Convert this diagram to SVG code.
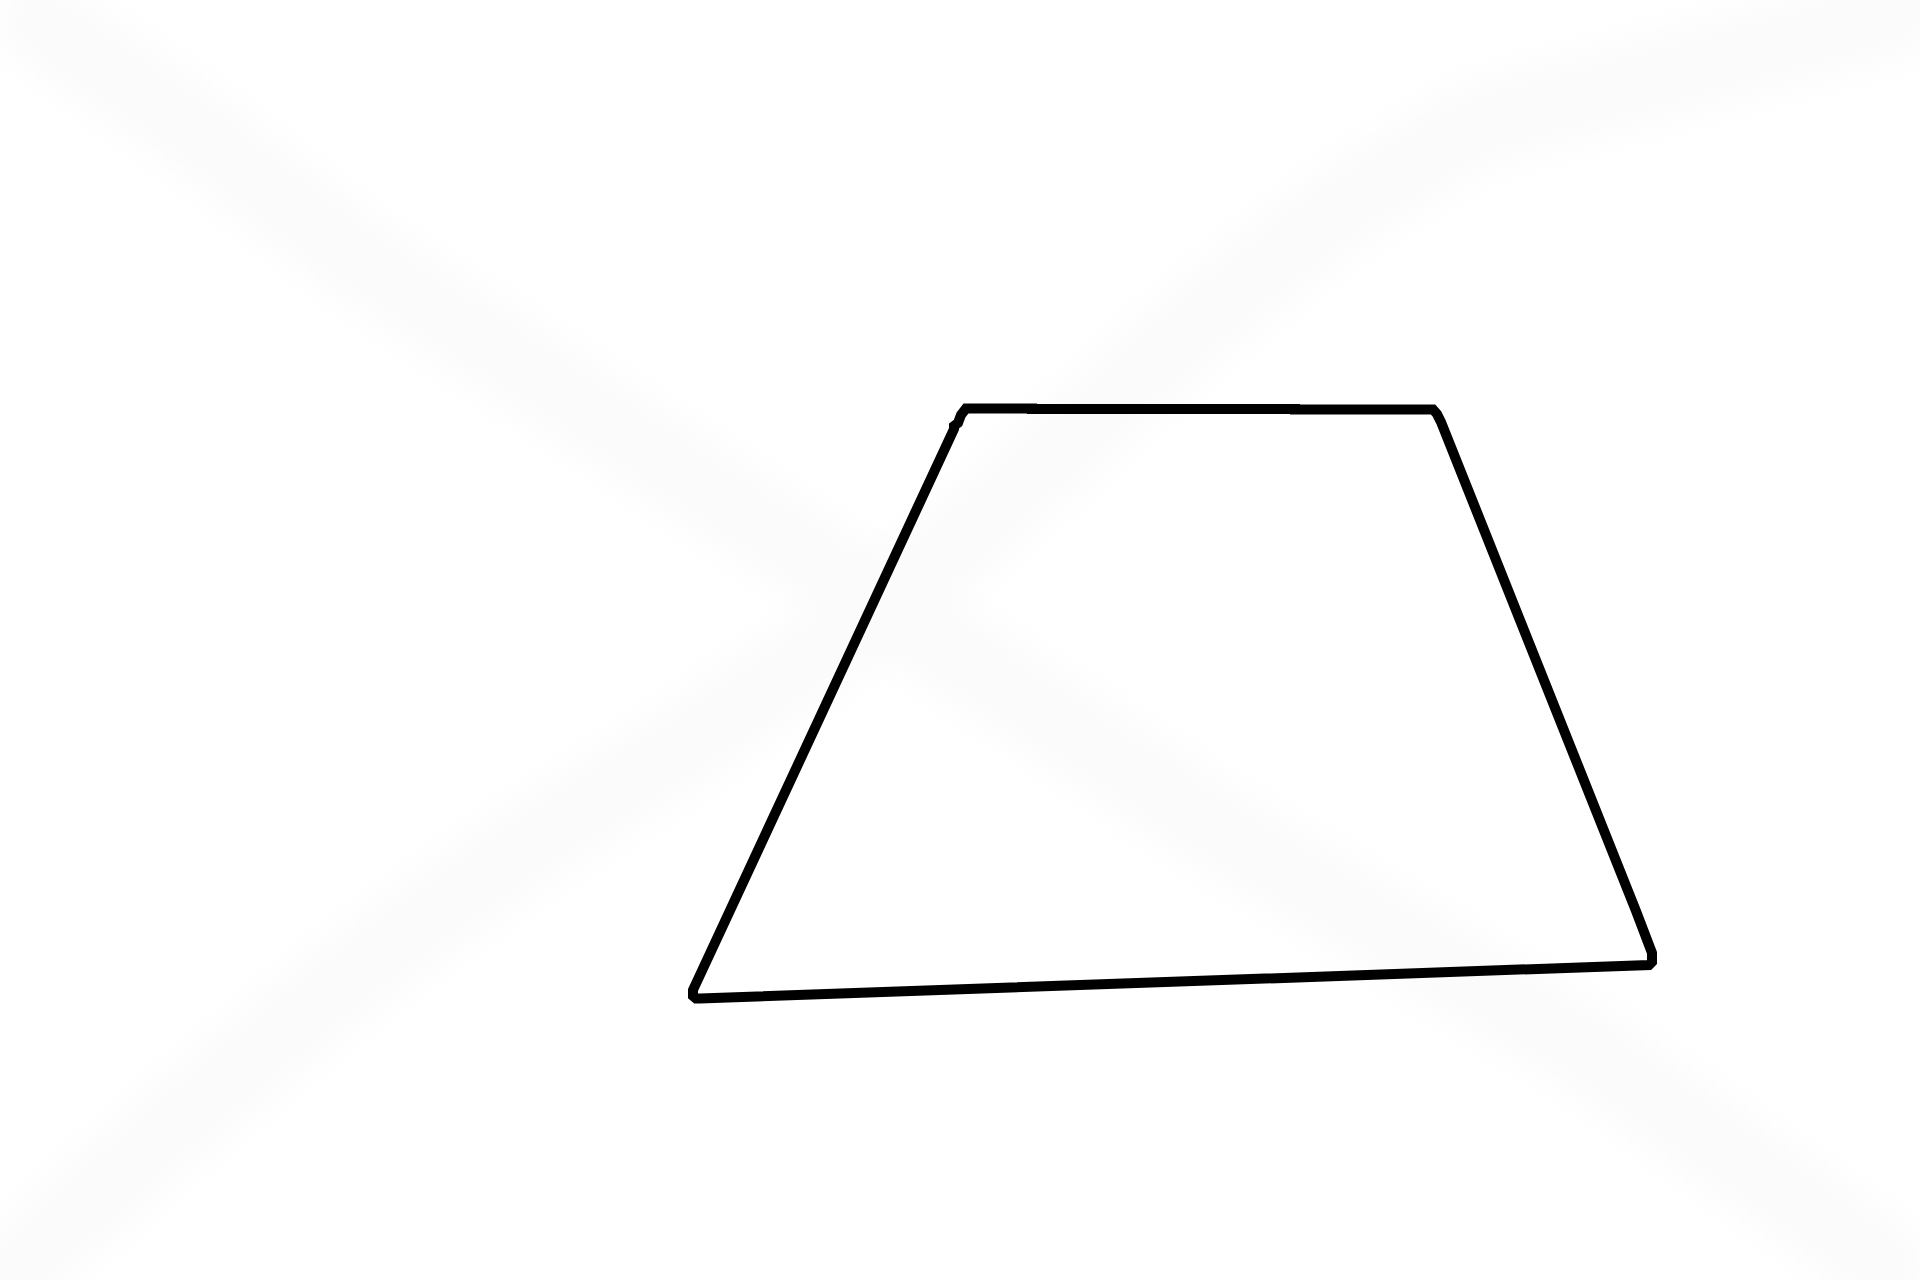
<svg xmlns="http://www.w3.org/2000/svg" width="1920" height="1280" viewBox="0 0 1920 1280">
  <defs>
    <filter id="soft" x="-20%" y="-20%" width="140%" height="140%">
      <feGaussianBlur stdDeviation="20"/>
    </filter>
    <style>
      .wm { fill: none; stroke: #fbfbfb; stroke-width: 85; stroke-linecap: round; stroke-linejoin: round; filter: url(#soft); }
      .outline { fill: none; stroke: #000000; stroke-width: 10; stroke-linejoin: miter; }
    </style>
  </defs>
  <rect x="0" y="0" width="1920" height="1280" fill="#ffffff"/>
  <g id="watermark">
    <path class="wm" d="M 38,20 L 191,127 L 345,250 L 498,350 L 894,612 L 1224,833 L 1592,1053 L 1886,1267"/>
    <path class="wm" d="M 1900,12 L 1705,65 L 1475,125 L 1338,210 L 1200,320 L 894,600 L 689,742 L 517,852 L 344,980 L 172,1126 L 20,1265"/>
  </g>
  <g id="trapezoid">
    <path class="outline" d="M 966,408.5 H 1032 V 409 H 1295 V 409.5 H 1433 L 1437,414 L 1441,422 L 1636,911 L 1652,953 V 962 L 1649,965 L 700,998.5 H 696 L 693,996 V 990 L 954,429 V 426 L 958,423 L 961,415 Z"/>
  </g>
</svg>
